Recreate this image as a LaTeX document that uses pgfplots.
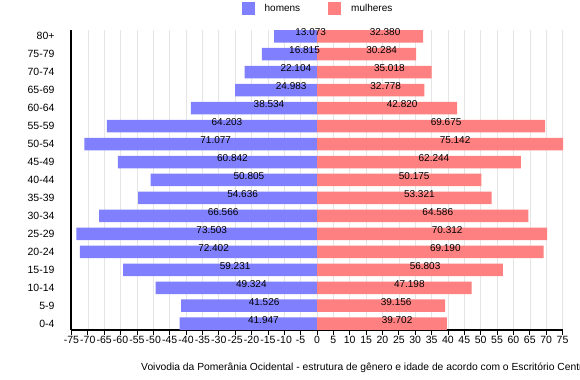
\documentclass[border=0pt]{standalone}
\usepackage{fontspec}
\setmainfont{Liberation Sans}
\usepackage{pgfplots}
\usepackage{pgfplotstable}
\pgfplotsset{compat=1.18}
\definecolor{menC}{RGB}{128,128,255}
\definecolor{womC}{RGB}{255,128,128}
\pgfplotstableread{
idx m w
0 41.947 39.702
1 41.526 39.156
2 49.324 47.198
3 59.231 56.803
4 72.402 69.190
5 73.503 70.312
6 66.566 64.586
7 54.636 53.321
8 50.805 50.175
9 60.842 62.244
10 71.077 75.142
11 64.203 69.675
12 38.534 42.820
13 24.983 32.778
14 22.104 35.018
15 16.815 30.284
16 13.073 32.380
}\data
\begin{document}
\begin{tikzpicture}
\begin{axis}[
  at={(71bp,50bp)}, anchor=south west,
  scale only axis, width=492bp, height=300bp,
  xmin=-75.142, xmax=75.142,
  ymin=-0.35, ymax=16.35,
  axis x line*=bottom, axis y line*=left,
  axis line style={black, line width=1.2pt, -},
  xtick={-75,-70,-65,-60,-55,-50,-45,-40,-35,-30,-25,-20,-15,-10,-5,0,5,10,15,20,25,30,35,40,45,50,55,60,65,70,75},
  xticklabels={-75,-70,-65,-60,-55,-50,-45,-40,-35,-30,-25,-20,-15,-10,-5,0,5,10,15,20,25,30,35,40,45,50,55,60,65,70,75},
  ytick={0,...,16},
  yticklabels={0-4,5-9,10-14,15-19,20-24,25-29,30-34,35-39,40-44,45-49,50-54,55-59,60-64,65-69,70-74,75-79,80+},
  tick align=outside,
  major tick length=5bp,
  xtick style={black, line width=0.8pt},
  ytick style={draw=none},
  xmajorgrids,
  grid style={black!10, line width=0.6pt},
  /pgf/number format/assume math mode=true,
  xticklabel style={font=\fontsize{10.5bp}{12bp}\selectfont, inner sep=1bp},
  yticklabel style={font=\fontsize{10.5bp}{12bp}\selectfont, xshift=-8bp},
  legend style={draw=none, fill=none, at={(0.5,1)}, anchor=center, yshift=21.5bp,
    legend columns=2, font=\fontsize{10bp}{12bp}\selectfont,
    nodes={inner sep=0pt},
    /tikz/every odd column/.append style={column sep=10bp},
    /tikz/every even column/.append style={column sep=28bp}},
  legend cell align=left,
]
\addplot[xbar, bar shift=0pt, bar width=12.5bp, fill=menC, draw=none,
  legend image code/.code={\fill[menC] (0bp,-6.5bp) rectangle (13bp,6.5bp);}]
  table[x expr=-\thisrow{m}, y=idx] {\data};
\addlegendentry{homens}
\addplot[xbar, bar shift=0pt, bar width=12.5bp, fill=womC, draw=none,
  legend image code/.code={\fill[womC] (0bp,-6.5bp) rectangle (13bp,6.5bp);}]
  table[x=w, y=idx] {\data};
\addlegendentry{mulheres}
\addplot[draw=none, mark=none, forget plot, nodes near coords, point meta=explicit symbolic,
  every node near coord/.append style={anchor=center, yshift=4bp, font=\fontsize{10bp}{12bp}\selectfont, text=black}]
  table[x expr=-\thisrow{m}/2+4.6, y=idx, meta=m] {\data};
\addplot[draw=none, mark=none, forget plot, nodes near coords, point meta=explicit symbolic,
  every node near coord/.append style={anchor=center, yshift=4bp, font=\fontsize{10bp}{12bp}\selectfont, text=black}]
  table[x expr=\thisrow{w}/2+4.6, y=idx, meta=w] {\data};
\end{axis}
\node[anchor=west, inner sep=0pt, font=\fontsize{10.3bp}{12bp}\selectfont] at (141bp,12bp)
  {Voivodia da Pomerânia Ocidental - estrutura de gênero e idade de acordo com o Escritório Central de Estatística};
\pgfresetboundingbox
\useasboundingbox (0,0) rectangle (580bp,380bp);
\end{tikzpicture}
\end{document}
